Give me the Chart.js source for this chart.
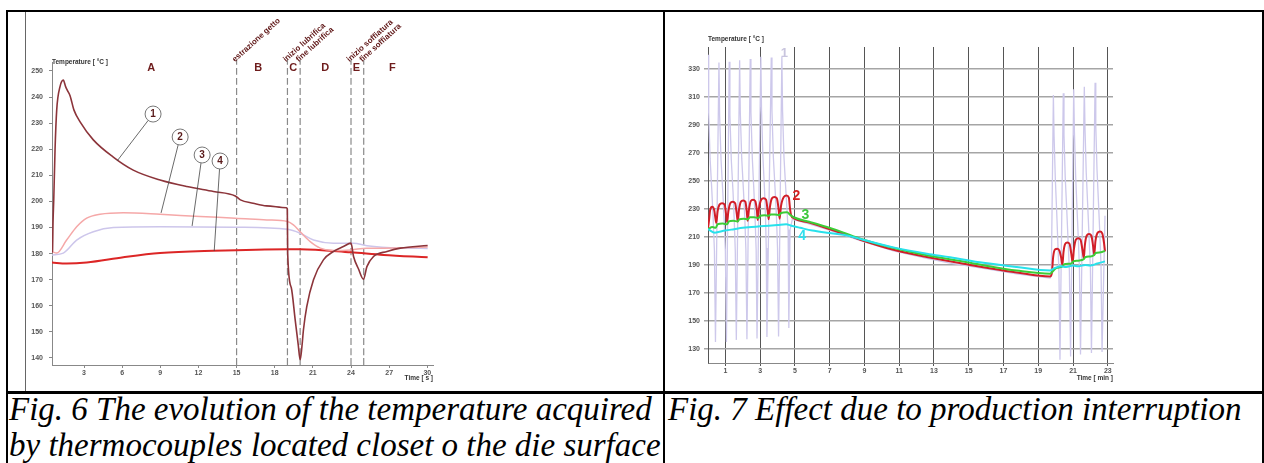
<!DOCTYPE html>
<html>
<head>
<meta charset="utf-8">
<script src="https://cdn.jsdelivr.net/npm/chart.js@4.4.1/dist/chart.umd.min.js"></script>
<style>
body { margin:0; width:1264px; height:463px; overflow:hidden; background:#fff; position:relative; }
.frame { position:absolute; left:6px; top:10px; width:1254px; height:520px; border:2px solid #000; }
.vline { position:absolute; left:663px; top:10px; width:2px; height:460px; background:#000; }
.hline { position:absolute; left:6px; top:391px; width:1258px; height:3px; background:#000; }
.edge { position:absolute; left:25px; top:12px; width:1px; height:379px; background:#666; }
canvas { position:absolute; }
#fig6 { left:27px; top:14px; }
#fig7 { left:666px; top:14px; }
.cap { position:absolute; top:391px; font-family:"Liberation Serif","Times New Roman",serif; font-style:italic; font-size:33px; line-height:36px; white-space:nowrap; color:#000; }
</style>
</head>
<body>
<div class="frame"></div>
<div class="vline"></div>
<div class="hline"></div>
<div class="edge"></div>
<canvas id="fig6" width="630" height="376"></canvas>
<canvas id="fig7" width="596" height="376"></canvas>
<div class="cap" style="left:9px">Fig. 6 The evolution of the temperature acquired<br>by thermocouples located closet o the die surface</div>
<div class="cap" style="left:668px">Fig. 7 Effect due to production interruption</div>
<script>
// ---------------- Fig. 6 data ----------------
const fig6TimeTicks = [3, 6, 9, 12, 15, 18, 21, 24, 27, 30];
const fig6TempTicks = [140, 150, 160, 170, 180, 190, 200, 210, 220, 230, 240, 250];

const tc1Time = [0.48, 0.52, 0.56, 0.62, 0.72, 0.85, 1.11, 1.37, 1.55, 1.7, 1.9, 2.21, 2.69, 3.73, 5.3, 6.87, 8.98, 11.08, 13.18, 14.9, 15.3, 16.3, 17.35, 18.92, 18.99, 19.02, 19.3, 19.6, 19.85, 20.0, 20.14, 20.26, 20.52, 21.05, 21.83, 22.62, 23.4, 24.0, 24.2, 24.6, 24.98, 25.25, 25.77, 26.83, 27.88, 30.03];
const tc1Temp = [180.5, 181, 192, 201, 220, 235, 244, 246.5, 244, 242.5, 240.5, 235, 230.5, 223.6, 217, 212, 208.2, 205.7, 203.8, 202.1, 200.6, 199.3, 198.3, 197.6, 197, 180, 167, 155, 145, 139.3, 144.4, 150.8, 159.7, 170, 177.6, 180.8, 182.7, 184, 178.9, 174, 170.2, 175, 178.9, 180.8, 182.1, 183.1];

const tc2Time = [0.46, 0.85, 1.63, 2.42, 3.21, 4.26, 6.09, 8.98, 12.13, 14.91, 17.38, 19.0, 19.47, 20.0, 20.79, 21.58, 22.62, 23.99, 25.25, 26.56, 30.03];
const tc2Temp = [180.8, 180.2, 185.2, 190.3, 193.6, 195.1, 195.7, 195.1, 194.2, 193.6, 192.9, 192.3, 191, 188.4, 184.6, 182.1, 181.2, 181.4, 182.1, 182.1, 182.5];

const tc3Time = [0.46, 1.37, 2.42, 3.73, 5.31, 8.98, 14.91, 19.0, 20.0, 21.05, 22.62, 24.2, 25.25, 27.88, 30.03];
const tc3Temp = [179.5, 180.2, 185.2, 188.4, 190, 190.3, 190.1, 189.3, 187.8, 185.2, 184, 184, 183, 182.1, 182];

const tc4Time = [0.46, 1.63, 3.21, 6.09, 8.98, 13.18, 19.0, 20.0, 23.99, 26.56, 30.03];
const tc4Temp = [176.6, 176.2, 176.6, 178.6, 180.2, 181.1, 181.7, 181.7, 180.5, 179.5, 178.6];

const phaseNames = ['A', 'B', 'C', 'D', 'E', 'F'];
const phaseMid = [8.28, 16.7, 19.46, 21.98, 24.42, 27.25];
const eventTimes = [15, 19, 20, 24, 25];
const eventNames = ['estrazione getto', 'inizio lubrifica', 'fine lubrifica', 'inizio soffiatura', 'fine soffiatura'];

const tagNames = ['1', '2', '3', '4'];
const tagTime = [8.43, 10.56, 12.29, 13.7];
const tagTemp = [233.5, 224.7, 217.8, 215.5];
const leaderTime = [5.6, 9.06, 11.5, 13.24];
const leaderTemp = [215.5, 195.6, 190.6, 181.0];

// ---------------- Fig. 7 data ----------------
const fig7TimeTicks = [1, 3, 5, 7, 9, 11, 13, 15, 17, 19, 21, 23];
const fig7TempTicks = [130, 150, 170, 190, 210, 230, 250, 270, 290, 310, 330];

const s1Time = [0, 0.04, 0.12, 0.22, 0.30, 0.37, 0.43,
  0.63, 0.67, 0.75, 0.85, 0.93, 1.0, 1.06,
  1.22, 1.26, 1.34, 1.44, 1.51, 1.57, 1.63,
  1.82, 1.86, 1.94, 2.04, 2.12, 2.18, 2.24,
  2.43, 2.47, 2.55, 2.64, 2.71, 2.77, 2.82,
  3.04, 3.08, 3.16, 3.25, 3.31, 3.35, 3.39,
  3.64, 3.68, 3.76, 3.86, 3.94, 4.0, 4.06,
  4.25, 4.29, 4.37, 4.47, 4.55, 4.61, 4.65, 4.72, 4.85,
  5.82, 6.84, 7.8, 8.76, 10.67, 12.59, 13.93, 15.84, 17.76, 19.68, 19.75,
  19.87, 19.91, 19.98, 20.06, 20.13, 20.19, 20.25,
  20.44, 20.48, 20.55, 20.64, 20.72, 20.79, 20.86,
  21.04, 21.08, 21.15, 21.23, 21.31, 21.37, 21.43,
  21.65, 21.69, 21.76, 21.85, 21.93, 22.0, 22.06,
  22.27, 22.31, 22.38, 22.47, 22.55, 22.61, 22.67, 22.84];
const s1Temp = [340, 298, 266, 243, 222, 200, 135,
  334.5, 296, 265, 242, 222, 200, 135,
  335, 297, 265, 242, 222, 200, 136.5,
  336, 298, 266, 243, 223, 201, 137,
  337, 299, 266, 243, 223, 201, 137.5,
  338.5, 300, 267, 244, 224, 202, 138.5,
  338, 300, 267, 244, 224, 202, 139,
  338.5, 300, 267, 245, 228, 215, 145, 215, 222.5,
  219.3, 215.4, 211.5, 207.3, 200, 194.6, 191.3, 187.5, 183.7, 180.6, 182,
  311.3, 282, 252, 228, 205, 185, 122.4,
  312.5, 283, 253, 229, 206, 186, 124.7,
  315.3, 285, 254, 230, 207, 187, 126,
  317.2, 287, 256, 231, 208, 188, 127.2,
  320, 289, 258, 233, 210, 190, 127.9, 225];

const s2Time = [0, 0.06, 0.12, 0.24, 0.36, 0.43, 0.48,
  0.55, 0.66, 0.81, 0.96, 1.04, 1.10,
  1.17, 1.28, 1.42, 1.56, 1.65, 1.71,
  1.78, 1.89, 2.02, 2.15, 2.23, 2.28,
  2.35, 2.46, 2.59, 2.72, 2.81, 2.86,
  2.93, 3.06, 3.20, 3.34, 3.43, 3.49,
  3.56, 3.68, 3.82, 3.96, 4.06, 4.12,
  4.20, 4.36, 4.52, 4.65, 4.72, 4.78,
  4.93, 5.82, 6.84, 7.8, 8.76, 10.67, 12.59, 15.08, 15.84, 17.76, 19.68,
  19.78, 19.86, 19.96, 20.1, 20.22, 20.32, 20.39,
  20.45, 20.55, 20.67, 20.8, 20.9, 20.98,
  21.05, 21.16, 21.3, 21.43, 21.54, 21.62,
  21.68, 21.79, 21.92, 22.05, 22.15, 22.22,
  22.29, 22.42, 22.55, 22.68, 22.78, 22.84];
const s2Temp = [216, 222, 229, 231.5, 229, 223, 220,
  228, 233, 234, 233, 226, 220.5,
  228, 234, 235, 234, 227, 221,
  229, 235, 236, 235, 228, 221.5,
  229, 235.5, 236.5, 235.5, 229, 222,
  230, 236.5, 237.5, 236.5, 229, 222.5,
  231, 237.5, 238.5, 237.5, 230, 223,
  232, 238.5, 239.5, 238, 230, 225.5,
  223.4, 220.2, 216.2, 212.2, 208, 200.8, 195.6, 190, 188.4, 184.6, 181.8,
  184, 196, 201, 201.5, 200, 195, 190,
  199, 205, 206, 205, 198, 191.7,
  201, 208, 209.1, 208, 201, 194.8,
  204, 211, 212, 211, 204, 197.2,
  207, 213, 213.8, 212.5, 206, 199.6];

const s3Time = [0, 0.25, 0.45, 0.55, 0.85, 1.1, 1.2, 1.45, 1.7, 1.8, 2.05, 2.3, 2.4, 2.65, 2.9, 3.0, 3.25, 3.5, 3.6, 3.85, 4.1, 4.2, 4.55, 4.75,
  4.93, 5.82, 6.84, 7.8, 8.76, 10.67, 12.59, 15.08, 15.84, 17.76, 19.68,
  19.8, 20.0, 20.39, 20.5, 20.9, 21.02, 21.3, 21.63, 21.7, 22.0, 22.22, 22.3, 22.6, 22.84];
const s3Temp = [215.5, 217, 216.5, 219, 219.5, 219, 221, 221.5, 221, 222.5, 223, 222.5, 224, 224, 223.5, 225, 225.5, 225, 226, 226, 225.5, 227, 227.5, 225.5,
  224, 220.8, 217, 213, 208.7, 202, 196.9, 191.5, 189.8, 186, 183.7,
  185, 187.5, 189, 190.5, 191, 192.5, 193, 194.2, 195.5, 196, 197, 198.5, 199, 200];

const s4Time = [0, 0.4, 0.6, 1.0, 1.5, 2.0, 2.5, 3.0, 3.5, 4.0, 4.5, 4.8, 5.3, 6.0, 6.84, 7.8, 8.76, 10.67, 12.59, 13.93, 15.84, 17.76, 19.68,
  19.9, 20.3, 20.6, 21.0, 21.3, 21.7, 22.0, 22.4, 22.84];
const s4Temp = [215.5, 213, 213.5, 214.5, 215.5, 216.5, 217, 217.5, 218, 218.5, 219, 218, 216.5, 214.5, 213, 211.5, 208.5, 202.5, 198, 195.5, 191.5, 188.5, 186,
  187.5, 189, 188.5, 189.5, 189, 190, 189.5, 191, 192.5];

const curveNames = ['1', '2', '3', '4'];
const curveNameTime = [4.39, 5.08, 5.6, 5.41];
const curveNameTemp = [341.2, 238.8, 225.8, 210.3];

// ---------------- helpers ----------------
function pts(xs, ys) {
    return xs.map((x, i) => ({ x: x, y: ys[i] }));
}
const tickFont = { family: '"Liberation Sans", Arial, sans-serif', size: 7, weight: 'bold' };
const axisText = 'bold 6.5px "Liberation Sans", Arial, sans-serif';

// ---------------- Fig. 6 ----------------
const fig6Notes = {
    id: 'fig6Notes',
    afterDatasetsDraw(chart) {
        const ctx = chart.ctx;
        const x = chart.scales.x, y = chart.scales.y;
        ctx.save();
        ctx.fillStyle = '#333';
        ctx.font = axisText;
        ctx.textBaseline = 'middle';
        ctx.textAlign = 'left';
        ctx.fillText('Temperature [ °C ]', chart.chartArea.left, chart.chartArea.top);
        ctx.textAlign = 'right';
        ctx.fillText('Time [ s ]', chart.chartArea.right, chart.chartArea.bottom + 13);

        ctx.fillStyle = '#6e1c1c';
        ctx.font = 'bold 11px "Liberation Sans", Arial, sans-serif';
        ctx.textAlign = 'center';
        phaseNames.forEach((n, i) => ctx.fillText(n, x.getPixelForValue(phaseMid[i]), y.getPixelForValue(251.1)));

        ctx.fillStyle = '#5e1515';
        ctx.font = 'bold 8px "Liberation Sans", Arial, sans-serif';
        ctx.textAlign = 'left';
        eventNames.forEach((n, i) => {
            ctx.save();
            ctx.translate(x.getPixelForValue(eventTimes[i]) - 3, y.getPixelForValue(254.0));
            ctx.rotate(-42 * Math.PI / 180);
            ctx.fillText(n, 0, 0);
            ctx.restore();
        });

        tagNames.forEach((n, i) => {
            const cx = x.getPixelForValue(tagTime[i]), cy = y.getPixelForValue(tagTemp[i]);
            const lx = x.getPixelForValue(leaderTime[i]), ly = y.getPixelForValue(leaderTemp[i]);
            const a = Math.atan2(ly - cy, lx - cx);
            ctx.strokeStyle = '#444';
            ctx.lineWidth = 0.8;
            ctx.beginPath();
            ctx.moveTo(cx + Math.cos(a) * 8, cy + Math.sin(a) * 8);
            ctx.lineTo(lx, ly);
            ctx.stroke();
            ctx.fillStyle = '#fff';
            ctx.strokeStyle = '#777';
            ctx.lineWidth = 1;
            ctx.beginPath();
            ctx.arc(cx, cy, 8, 0, Math.PI * 2);
            ctx.fill();
            ctx.stroke();
            ctx.fillStyle = '#5a1a1a';
            ctx.font = 'bold 10px "Liberation Sans", Arial, sans-serif';
            ctx.textAlign = 'center';
            ctx.fillText(n, cx, cy + 0.5);
        });
        ctx.restore();
    }
};

const fig6Sets = [
    { data: pts(tc1Time, tc1Temp), borderColor: 'rgb(140,52,58)', borderWidth: 1.6 },
    { data: pts(tc2Time, tc2Temp), borderColor: 'rgb(245,168,168)', borderWidth: 1.5 },
    { data: pts(tc3Time, tc3Temp), borderColor: 'rgb(205,198,235)', borderWidth: 1.5 },
    { data: pts(tc4Time, tc4Temp), borderColor: 'rgb(220,38,38)', borderWidth: 2 }
];
eventTimes.forEach(t => {
    fig6Sets.push({ data: [{ x: t, y: 137.3 }, { x: t, y: 254.3 }], borderColor: '#8a8a8a', borderWidth: 1.2, borderDash: [7, 3], clip: false });
});

new Chart(document.getElementById('fig6'), {
    type: 'line',
    data: { datasets: fig6Sets },
    options: {
        responsive: false,
        animation: false,
        devicePixelRatio: 1,
        layout: { padding: { left: 0, right: 224, top: 48, bottom: 11 } },
        elements: { point: { radius: 0 }, line: { cubicInterpolationMode: 'monotone' } },
        plugins: { legend: { display: false }, tooltip: { enabled: false } },
        scales: {
            x: {
                type: 'linear', min: 0.48, max: 30.45,
                afterBuildTicks: s => { s.ticks = fig6TimeTicks.map(v => ({ value: v })); },
                afterFit: s => { s.height = 14; },
                grid: { drawOnChartArea: false, drawTicks: true, tickLength: 3, color: '#888' },
                border: { color: '#888' },
                ticks: { font: tickFont, color: '#555', padding: 1, maxRotation: 0 }
            },
            y: {
                type: 'linear', min: 137.3, max: 253.45,
                afterBuildTicks: s => { s.ticks = fig6TempTicks.map(v => ({ value: v })); },
                afterFit: s => { s.width = 25; },
                grid: { drawOnChartArea: false, drawTicks: true, tickLength: 3, color: '#888' },
                border: { color: '#888' },
                ticks: { font: tickFont, color: '#555', padding: 6 }
            }
        }
    },
    plugins: [fig6Notes]
});

// ---------------- Fig. 7 ----------------
const fig7Notes = {
    id: 'fig7Notes',
    afterDatasetsDraw(chart) {
        const ctx = chart.ctx;
        const x = chart.scales.x, y = chart.scales.y;
        ctx.save();
        ctx.fillStyle = '#333';
        ctx.font = axisText;
        ctx.textBaseline = 'middle';
        ctx.textAlign = 'left';
        ctx.fillText('Temperature [ °C ]', chart.chartArea.left, chart.chartArea.top - 8);
        ctx.textAlign = 'right';
        ctx.fillText('Time [ min ]', chart.chartArea.right, chart.chartArea.bottom + 15);

        const colors = ['#c9c5de', '#d42020', '#3cc83c', '#2ee0ee'];
        ctx.textAlign = 'center';
        curveNames.forEach((n, i) => {
            ctx.fillStyle = colors[i];
            ctx.font = (i === 0 ? 'bold 13px' : 'bold 14px') + ' "Liberation Sans", Arial, sans-serif';
            ctx.fillText(n, x.getPixelForValue(curveNameTime[i]), y.getPixelForValue(curveNameTemp[i]));
        });
        ctx.restore();
    }
};

new Chart(document.getElementById('fig7'), {
    type: 'line',
    data: {
        datasets: [
            { data: pts(s4Time, s4Temp), borderColor: 'rgb(40,225,235)', borderWidth: 2, cubicInterpolationMode: 'monotone' },
            { data: pts(s3Time, s3Temp), borderColor: 'rgb(60,205,55)', borderWidth: 2, cubicInterpolationMode: 'monotone' },
            { data: pts(s2Time, s2Temp), borderColor: 'rgb(210,30,40)', borderWidth: 2, cubicInterpolationMode: 'monotone' },
            { data: pts(s1Time, s1Temp), borderColor: 'rgb(205,200,235)', borderWidth: 1.3, tension: 0 }
        ]
    },
    options: {
        responsive: false,
        animation: false,
        devicePixelRatio: 1,
        layout: { padding: { left: 0, right: 149, top: 33, bottom: 13 } },
        elements: { point: { radius: 0 } },
        plugins: { legend: { display: false }, tooltip: { enabled: false } },
        scales: {
            x: {
                type: 'linear', min: 0, max: 23.3,
                afterBuildTicks: s => { s.ticks = fig7TimeTicks.map(v => ({ value: v })); },
                afterFit: s => { s.height = 14; },
                grid: { color: '#555', lineWidth: 1, drawTicks: true, tickLength: 3 },
                border: { color: '#888' },
                ticks: { font: tickFont, color: '#555', padding: 1, maxRotation: 0 }
            },
            y: {
                type: 'linear', min: 120, max: 345.5,
                afterBuildTicks: s => { s.ticks = fig7TempTicks.map(v => ({ value: v })); },
                afterFit: s => { s.width = 42; },
                grid: { color: '#a5a5a5', lineWidth: 1.5, drawTicks: true, tickLength: 4 },
                border: { color: '#555' },
                ticks: { font: tickFont, color: '#555', padding: 4 }
            }
        }
    },
    plugins: [fig7Notes]
});
</script>
</body>
</html>
